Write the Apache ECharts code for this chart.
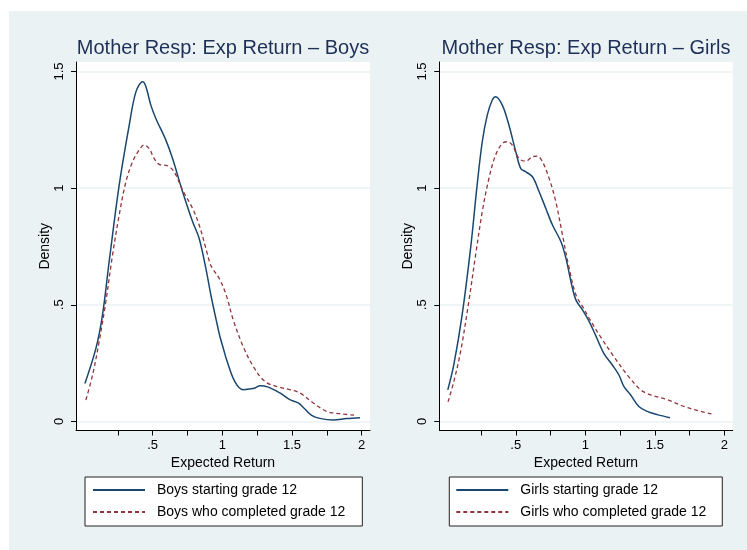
<!DOCTYPE html>
<html>
<head>
<meta charset="utf-8">
<script src="https://cdn.jsdelivr.net/npm/echarts@6/dist/echarts.min.js"></script>
<style>
html,body{margin:0;padding:0;background:#fff;}
#c{width:747px;height:550px;}
</style>
</head>
<body>
<div id="c"></div>
<script>
// ---- data ----
const panelTitles = ['Mother Resp: Exp Return \u2013 Boys', 'Mother Resp: Exp Return \u2013 Girls'];
const seriesNames = [
  ['Boys starting grade 12', 'Boys who completed grade 12'],
  ['Girls starting grade 12', 'Girls who completed grade 12']
];
const xTickValues = [0.25, 0.5, 0.75, 1, 1.25, 1.5, 1.75, 2];
const xLabelValues = [0.5, 1, 1.5, 2];
const yTickValues = [0, 0.5, 1, 1.5];

const boysStartX = [0.014,0.093,0.14,0.188,0.26,0.332,0.38,0.428,0.452,0.487,0.523,0.595,0.643,0.715,0.787,0.834,0.882,0.918,0.954,0.983,1.014,1.031,1.09,1.15,1.198,1.234,1.27,1.33,1.413,1.485,1.545,1.593,1.641,1.70,1.796,1.892,1.988];
const boysStartY = [0.163,0.313,0.456,0.685,1.013,1.27,1.413,1.456,1.435,1.356,1.299,1.206,1.127,0.985,0.856,0.784,0.656,0.542,0.441,0.364,0.299,0.264,0.171,0.136,0.139,0.143,0.153,0.147,0.122,0.093,0.079,0.053,0.026,0.013,0.006,0.012,0.016];

const boysDoneX = [0.021,0.069,0.116,0.164,0.212,0.26,0.308,0.356,0.403,0.439,0.475,0.511,0.547,0.607,0.655,0.715,0.787,0.834,0.882,0.911,0.930,0.983,1.031,1.078,1.15,1.222,1.306,1.39,1.485,1.557,1.653,1.749,1.845,1.945];
const boysDoneY = [0.092,0.199,0.342,0.513,0.713,0.885,1.027,1.113,1.163,1.185,1.17,1.127,1.102,1.096,1.07,0.992,0.913,0.842,0.742,0.679,0.656,0.607,0.536,0.436,0.321,0.236,0.171,0.15,0.136,0.122,0.079,0.043,0.033,0.027];

const girlsStartX = [0.011,0.054,0.114,0.175,0.222,0.259,0.295,0.331,0.355,0.403,0.451,0.5,0.536,0.572,0.62,0.668,0.716,0.764,0.825,0.861,0.897,0.933,0.981,1.029,1.072,1.132,1.193,1.241,1.277,1.325,1.385,1.445,1.518,1.609];
const girlsStartY = [0.135,0.242,0.456,0.742,1.013,1.199,1.313,1.378,1.392,1.356,1.27,1.156,1.084,1.07,1.049,0.985,0.913,0.842,0.77,0.699,0.599,0.52,0.477,0.427,0.372,0.293,0.243,0.2,0.15,0.114,0.064,0.043,0.029,0.016];

const girlsDoneX = [0.013,0.054,0.103,0.162,0.211,0.259,0.307,0.355,0.403,0.439,0.475,0.523,0.572,0.62,0.656,0.692,0.74,0.788,0.836,0.884,0.933,0.981,1.029,1.108,1.204,1.301,1.397,1.469,1.59,1.71,1.83,1.907];
const girlsDoneY = [0.084,0.17,0.299,0.513,0.713,0.899,1.042,1.142,1.192,1.199,1.185,1.127,1.116,1.135,1.137,1.113,1.042,0.942,0.799,0.656,0.542,0.492,0.441,0.364,0.279,0.2,0.136,0.114,0.093,0.064,0.043,0.032];

// ---- build ----
const FONT = '"Liberation Sans", Arial, Helvetica, sans-serif';
const NAVY = '#1A476F', MAROON = '#90353B';
const zip = (xs, ys) => xs.map((x, i) => [x, ys[i]]);
const fmt = v => (v === 0 ? '0' : String(v).replace(/^0\./, '.'));

const grids = [
  {left: 76, top: 62, width: 294, height: 368.5},
  {left: 439.3, top: 62, width: 293.4, height: 368.5}
];
const data = [
  [zip(boysStartX, boysStartY), zip(boysDoneX, boysDoneY)],
  [zip(girlsStartX, girlsStartY), zip(girlsDoneX, girlsDoneY)]
];
const legendPos = [
  {left: 85, padding: [6, 17, 7, 7], textPad: 7},
  {left: 449.3, padding: [6, 16, 7, 6], textPad: 7}
];

const option = {
  animation: false,
  backgroundColor: '#fff',
  graphic: [{
    type: 'rect', z: -10, silent: true,
    shape: {x: 9, y: 11, width: 738, height: 539},
    style: {fill: '#EAF2F3'}
  }],
  title: panelTitles.map((t, i) => ({
    text: t,
    left: grids[i].left + grids[i].width / 2,
    textAlign: 'center',
    top: 38,
    padding: 0,
    textStyle: {fontFamily: FONT, fontSize: 20, fontWeight: 'normal', color: '#1E2F58'}
  })),
  grid: grids.map(g => Object.assign({show: true, backgroundColor: '#fff', borderWidth: 0, containLabel: false}, g)),
  xAxis: grids.map((g, i) => ({
    type: 'value', gridIndex: i, min: -0.05, max: 2.06,
    name: 'Expected Return', nameLocation: 'middle', nameGap: 23,
    nameTextStyle: {fontFamily: FONT, fontSize: 14, color: '#000'},
    axisLine: {show: true, onZero: false, lineStyle: {color: '#000', width: 1}},
    axisTick: {show: true, length: 5, customValues: xTickValues, lineStyle: {color: '#000'}},
    axisLabel: {customValues: xLabelValues, formatter: fmt, margin: 8, fontFamily: FONT, fontSize: 13, color: '#000'},
    splitLine: {show: false}
  })),
  yAxis: grids.map((g, i) => ({
    type: 'value', gridIndex: i, min: -0.039, max: 1.541,
    name: 'Density', nameLocation: 'middle', nameGap: 23, nameRotate: 90,
    nameTextStyle: {fontFamily: FONT, fontSize: 14, color: '#000'},
    axisLine: {show: true, onZero: false, lineStyle: {color: '#000', width: 1}},
    axisTick: {show: true, length: 5, customValues: yTickValues, lineStyle: {color: '#000'}},
    axisLabel: {customValues: yTickValues, formatter: fmt, rotate: 90, margin: 10, fontFamily: FONT, fontSize: 13, color: '#000'},
    splitLine: {show: true, lineStyle: {color: '#EAF2F3', width: 1.5}}
  })),
  legend: seriesNames.map((names, i) => ({
    data: names,
    orient: 'vertical',
    left: legendPos[i].left, top: 477,
    padding: legendPos[i].padding,
    itemWidth: 52, itemHeight: 14, itemGap: 8,
    itemStyle: {opacity: 0, borderWidth: 0},
    backgroundColor: '#fff', borderColor: '#222', borderWidth: 1, borderRadius: 0,
    textStyle: {fontFamily: FONT, fontSize: 14, color: '#000', padding: [0, 0, 0, legendPos[i].textPad]}
  })),
  series: []
};
[0, 1].forEach(p => {
  [0, 1].forEach(s => {
    option.series.push({
      type: 'line', name: seriesNames[p][s],
      xAxisIndex: p, yAxisIndex: p,
      data: data[p][s], symbol: 'none', smooth: 0.35,
      lineStyle: s === 0 ? {color: NAVY, width: 1.5} : {color: MAROON, width: 1.3, type: [4, 3]},
      itemStyle: {color: s === 0 ? NAVY : MAROON}
    });
  });
});

const chart = echarts.init(document.getElementById('c'), null, {renderer: 'canvas'});
chart.setOption(option);
</script>
</body>
</html>
